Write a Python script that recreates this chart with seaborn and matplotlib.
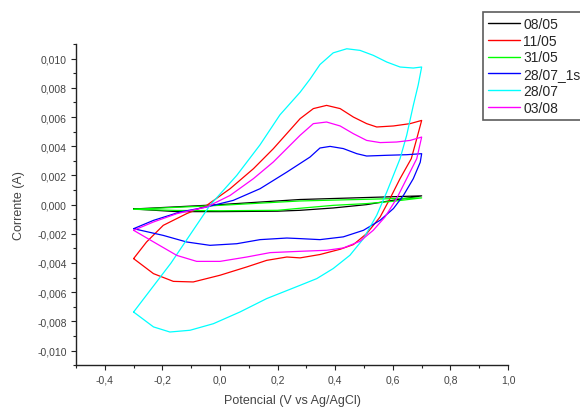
import numpy as np
import pandas as pd
import matplotlib
matplotlib.use("Agg")
import matplotlib.pyplot as plt
from matplotlib.ticker import MultipleLocator, FuncFormatter
from matplotlib.lines import Line2D
import seaborn as sns

# ---- data (potential in V, current in A) ----
labels = ["08/05", "11/05", "31/05", "28/07_1s", "28/07", "03/08"]
colors = ["#000000", "#FF0000", "#00FF00", "#0000FF", "#00FFFF", "#FF00FF"]

pot_0805 = [-0.30, 0.00, 0.278, 0.70, 0.602, 0.509, 0.393, 0.278, 0.20, 0.00, -0.15, -0.30]
cur_0805 = [-0.00030, 0.00000, 0.00035, 0.00060, 0.00030, 0.00000, -0.00023, -0.00039, -0.00045,
            -0.00048, -0.00048, -0.00030]

pot_1105 = [-0.30, -0.255, -0.197, -0.116, -0.046, 0.035, 0.116, 0.185, 0.278, 0.324, 0.370, 0.417,
            0.463, 0.509, 0.544, 0.602, 0.660, 0.700, 0.683, 0.664, 0.625, 0.590, 0.556, 0.509,
            0.463, 0.417, 0.347, 0.278, 0.232, 0.162, 0.093, 0.000, -0.093, -0.162, -0.231, -0.30]
cur_1105 = [-0.00370, -0.00256, -0.00142, -0.00062, -0.00005, 0.00109, 0.00246, 0.00383, 0.00589,
            0.00658, 0.00680, 0.00658, 0.00600, 0.00555, 0.00532, 0.00539, 0.00555, 0.00577,
            0.00452, 0.00315, 0.00178, 0.00041, -0.00084, -0.00199, -0.00274, -0.00306, -0.00342,
            -0.00365, -0.00359, -0.00382, -0.00427, -0.00484, -0.00530, -0.00526, -0.00473, -0.00370]

pot_3105 = [-0.30, 0.00, 0.278, 0.70, 0.602, 0.509, 0.393, 0.278, 0.20, 0.00, -0.15, -0.30]
cur_3105 = [-0.00032, -0.00005, 0.00025, 0.00046, 0.00023, 0.00007, -0.00005, -0.00025, -0.00039,
            -0.00042, -0.00040, -0.00032]

pot_2807_1s = [-0.30, -0.231, -0.139, -0.046, 0.046, 0.139, 0.232, 0.3125, 0.347, 0.382, 0.428, 0.475,
               0.509, 0.579, 0.648, 0.700, 0.695, 0.671, 0.637, 0.602, 0.556, 0.498, 0.428, 0.347,
               0.278, 0.232, 0.139, 0.058, -0.035, -0.116, -0.197, -0.30]
cur_2807_1s = [-0.00165, -0.00108, -0.00051, -0.00016, 0.00029, 0.00109, 0.00223, 0.00326, 0.00388,
               0.00399, 0.00384, 0.00349, 0.00333, 0.00338, 0.00342, 0.00349, 0.00290, 0.00178,
               0.00064, -0.00027, -0.00107, -0.00176, -0.00221, -0.00240, -0.00233, -0.00229,
               -0.00240, -0.00268, -0.00279, -0.00256, -0.00211, -0.00165]

pot_2807 = [-0.30, -0.17, -0.035, 0.058, 0.139, 0.208, 0.278, 0.3125, 0.347, 0.393, 0.440, 0.486,
            0.532, 0.579, 0.625, 0.671, 0.700, 0.688, 0.671, 0.648, 0.625, 0.579, 0.544, 0.498,
            0.451, 0.393, 0.336, 0.278, 0.162, 0.069, -0.023, -0.104, -0.174, -0.231, -0.30]
cur_2807 = [-0.00736, -0.00400, -0.00005, 0.00200, 0.00410, 0.00615, 0.00770, 0.00860, 0.00960,
            0.01040, 0.01068, 0.01057, 0.01023, 0.00977, 0.00943, 0.00936, 0.00943, 0.00820,
            0.00680, 0.00475, 0.00315, 0.00087, -0.00073, -0.00233, -0.00347, -0.00438, -0.00507,
            -0.00553, -0.00644, -0.00736, -0.00816, -0.00861, -0.00873, -0.00838, -0.00736]

pot_0308 = [-0.30, -0.231, -0.150, -0.046, 0.035, 0.116, 0.185, 0.278, 0.324, 0.370, 0.417, 0.463,
            0.509, 0.556, 0.613, 0.660, 0.700, 0.683, 0.648, 0.613, 0.573, 0.532, 0.486, 0.428,
            0.370, 0.278, 0.174, 0.093, 0.000, -0.081, -0.150, -0.220, -0.30]
cur_0308 = [-0.00176, -0.00119, -0.00062, -0.00016, 0.00063, 0.00178, 0.00292, 0.00475, 0.00555,
            0.00566, 0.00539, 0.00486, 0.00440, 0.00425, 0.00429, 0.00440, 0.00463, 0.00315,
            0.00178, 0.00041, -0.00084, -0.00176, -0.00251, -0.00297, -0.00313, -0.00320,
            -0.00329, -0.00359, -0.00389, -0.00389, -0.00348, -0.00268, -0.00176]

xticks = [-0.4, -0.2, 0.0, 0.2, 0.4, 0.6, 0.8, 1.0]
yticks = [-0.010, -0.008, -0.006, -0.004, -0.002, 0.000, 0.002, 0.004, 0.006, 0.008, 0.010]

series_x = [pot_0805, pot_1105, pot_3105, pot_2807_1s, pot_2807, pot_0308]
series_y = [cur_0805, cur_1105, cur_3105, cur_2807_1s, cur_2807, cur_0308]

frames = []
for lab, xs, ys in zip(labels, series_x, series_y):
    frames.append(pd.DataFrame({"Potencial": xs, "Corrente": ys, "serie": lab}))
df = pd.concat(frames, ignore_index=True)

sns.set_style("ticks")
plt.rcParams["font.family"] = ["Liberation Sans", "DejaVu Sans"]

fig = plt.figure(figsize=(5.8, 4.1), dpi=100)
ax = fig.add_axes([0.131, 0.107, 0.745, 0.783])

sns.lineplot(data=df, x="Potencial", y="Corrente", hue="serie", hue_order=labels,
             palette=dict(zip(labels, colors)), sort=False, estimator=None,
             units="serie", linewidth=0.9, ax=ax, legend=False)

ax.set_xlim(-0.5, 1.0)
ax.set_ylim(-0.011, 0.011)
ax.set_xticks(xticks)
ax.set_yticks(yticks)
ax.xaxis.set_minor_locator(MultipleLocator(0.1))
ax.yaxis.set_minor_locator(MultipleLocator(0.001))


def fmt_x(v, p):
    return "0,0" if abs(v) < 1e-9 else f"{v:.1f}".replace(".", ",")


def fmt_y(v, p):
    return "0,000" if abs(v) < 1e-9 else f"{v:.3f}".replace(".", ",")


ax.xaxis.set_major_formatter(FuncFormatter(fmt_x))
ax.yaxis.set_major_formatter(FuncFormatter(fmt_y))

for s in ["top", "right"]:
    ax.spines[s].set_visible(False)
for s in ["left", "bottom"]:
    ax.spines[s].set_color("#222222")
    ax.spines[s].set_linewidth(1.0)

ax.tick_params(axis="both", which="major", length=3.5, width=0.8, color="#222222",
               labelsize=7.5, labelcolor="#444444", pad=3)
ax.tick_params(axis="both", which="minor", length=2.2, width=0.8, color="#222222")

ax.set_xlabel("Potencial (V vs Ag/AgCl)", fontsize=9, color="#444444", labelpad=7)
ax.set_ylabel("Corrente (A)", fontsize=9, color="#444444", labelpad=9)

handles = [Line2D([], [], color=c, lw=1.0) for c in colors]
leg = fig.legend(handles, labels, loc="upper left",
                 bbox_to_anchor=(483 / 580, 1 - 13 / 410), bbox_transform=fig.transFigure,
                 borderaxespad=0, frameon=True, fancybox=False, fontsize=10,
                 handlelength=2.3, handletextpad=0.25, labelspacing=0.2, borderpad=0.35)
leg.get_frame().set_edgecolor("#333333")
leg.get_frame().set_linewidth(1.2)

fig.savefig("out.png", dpi=100)
